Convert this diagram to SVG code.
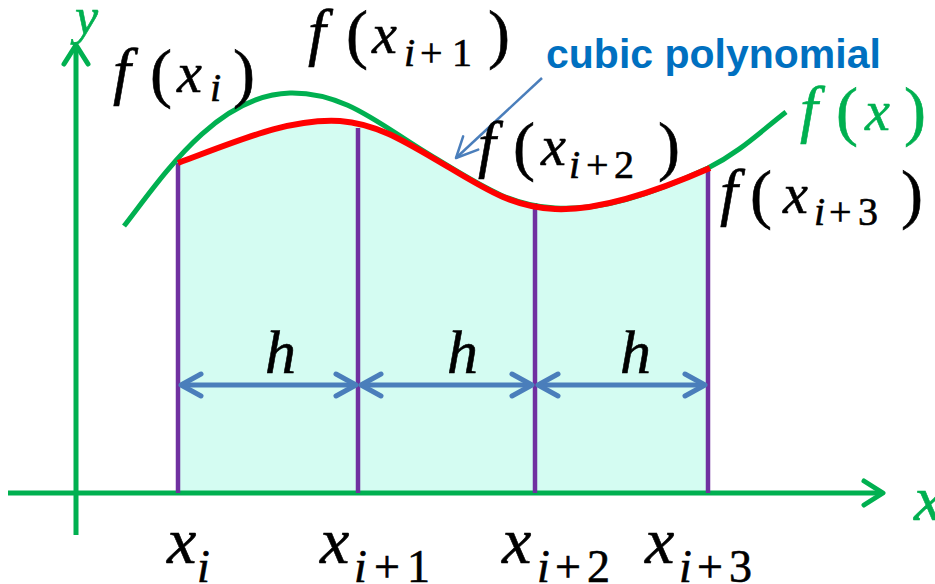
<svg xmlns="http://www.w3.org/2000/svg" width="935" height="584" viewBox="0 0 935 584">
<style>
.m{font-family:"Liberation Serif","Times New Roman",serif;fill:#000;stroke:#000;stroke-width:0.6}
.it{font-style:italic}
.g{fill:#00B050;stroke:#00B050}
.axis{stroke:#00B050;stroke-width:5;fill:none}
.div{stroke:#7030A0;stroke-width:4.5}
.dim{stroke:#4A7EBB;stroke-width:5;fill:none}
.lbl{font-family:"Liberation Sans",Arial,sans-serif;font-weight:bold;fill:#0070C0;font-size:41px}
</style>
<defs>
<marker id="ah" markerUnits="userSpaceOnUse" viewBox="-24 -16 28 32" markerWidth="28" markerHeight="32" refX="0" refY="0" orient="auto-start-reverse">
<path d="M-20,-11 L0,0 L-20,11" fill="none" stroke="#4A7EBB" stroke-width="5" stroke-linecap="round" stroke-linejoin="round"/>
</marker>
<marker id="gh" markerUnits="userSpaceOnUse" viewBox="-24 -16 28 32" markerWidth="28" markerHeight="32" refX="0" refY="0" orient="auto">
<path d="M-19,-12 L0,0 L-19,12" fill="none" stroke="#00B050" stroke-width="5" stroke-linecap="round" stroke-linejoin="round"/>
</marker>
<marker id="bh" markerUnits="userSpaceOnUse" viewBox="-26 -14 30 28" markerWidth="30" markerHeight="28" refX="0" refY="0" orient="auto">
<path d="M-22,-9 L0,0 L-20,11" fill="none" stroke="#4A7EBB" stroke-width="2.5" stroke-linecap="round" stroke-linejoin="round"/>
</marker>
</defs>

<g id="area">
<path d="M178,165 C240,142 290,121 340,124 C380,127 410,147 450,170 C490,194 515,208 555,211 C600,213 660,192 706,171 L708,493 L178,493 Z" fill="#D4FCF2"/>
</g>

<g id="axes">
<line class="axis" x1="8" y1="493" x2="883" y2="493" marker-end="url(#gh)"/>
<line class="axis" x1="76" y1="535" x2="76" y2="45" marker-end="url(#gh)"/>
<text class="m it g" x="75" y="34" font-size="52">y</text>
<text class="m it g" x="914" y="520" font-size="64">x</text>
</g>

<g id="dividers">
<line class="div" x1="178" y1="163" x2="178" y2="493"/>
<line class="div" x1="358" y1="128" x2="358" y2="493"/>
<line class="div" x1="535" y1="203" x2="535" y2="493"/>
<line class="div" x1="708" y1="168" x2="708" y2="493"/>
</g>

<g id="fx-curve">
<path d="M124,226 C160,180 215,95 290,93 C345,92 380,125 430,155 C480,185 510,206 555,208 C600,211 650,195 708,168 C740,152 760,132 786,112" fill="none" stroke="#00B050" stroke-width="5"/>
</g>

<g id="cubic-curve">
<path d="M178,163 C240,140 290,118 340,121 C380,124 410,145 450,168 C490,192 515,207 555,209 C600,211 660,190 710,168" fill="none" stroke="#FF0000" stroke-width="6"/>
</g>

<g id="connectors">
<line class="dim" x1="181" y1="385" x2="356" y2="385" marker-start="url(#ah)" marker-end="url(#ah)"/>
<line class="dim" x1="361" y1="385" x2="532" y2="385" marker-start="url(#ah)" marker-end="url(#ah)"/>
<line class="dim" x1="538" y1="385" x2="705" y2="385" marker-start="url(#ah)" marker-end="url(#ah)"/>
<line x1="542" y1="78" x2="456" y2="158" stroke="#4A7EBB" stroke-width="2.5" marker-end="url(#bh)"/>
</g>

<g id="label-cubic">
<text class="lbl" x="546" y="68">cubic polynomial</text>
</g>

<g id="label-fxi">
<text class="m" y="92"><tspan class="it" x="113" font-size="64">f</tspan><tspan x="150" y="95" font-size="66">(</tspan><tspan class="it" x="177" y="92" font-size="56">x</tspan><tspan class="it" x="210" y="101" font-size="40">i</tspan><tspan x="233" y="95" font-size="66">)</tspan></text>
</g>
<g id="label-fxi1">
<text class="m" y="53"><tspan class="it" x="308" font-size="64">f</tspan><tspan x="346" y="56" font-size="66">(</tspan><tspan class="it" x="372" y="53" font-size="56">x</tspan><tspan class="it" x="404" y="66" font-size="40">i</tspan><tspan x="420" font-size="40">+</tspan><tspan x="452" font-size="40">1</tspan><tspan x="488" y="56" font-size="66">)</tspan></text>
</g>
<g id="label-fxi2">
<text class="m" y="165"><tspan class="it" x="478" font-size="64">f</tspan><tspan x="513" y="168" font-size="66">(</tspan><tspan class="it" x="541" y="165" font-size="56">x</tspan><tspan class="it" x="569" y="178" font-size="40">i</tspan><tspan x="586" font-size="40">+</tspan><tspan x="614" font-size="40">2</tspan><tspan x="658" y="168" font-size="66">)</tspan></text>
</g>
<g id="label-fxi3">
<text class="m" y="213"><tspan class="it" x="720" font-size="64">f</tspan><tspan x="750" y="216" font-size="66">(</tspan><tspan class="it" x="783" y="213" font-size="56">x</tspan><tspan class="it" x="814" y="225" font-size="40">i</tspan><tspan x="829" font-size="40">+</tspan><tspan x="858" font-size="40">3</tspan><tspan x="901" y="216" font-size="66">)</tspan></text>
</g>
<g id="label-fx">
<text class="m g" y="130"><tspan class="it" x="800" font-size="64">f</tspan><tspan x="836" y="133" font-size="66">(</tspan><tspan class="it" x="865" y="130" font-size="56">x</tspan><tspan x="904" y="133" font-size="66">)</tspan></text>
</g>

<g id="label-h">
<text class="m it" x="265" y="373" font-size="62">h</text>
<text class="m it" x="447" y="373" font-size="62">h</text>
<text class="m it" x="620" y="373" font-size="62">h</text>
</g>

<g id="label-xs">
<text class="m" y="563"><tspan class="it" x="167" font-size="66">x</tspan><tspan class="it" x="197" y="582" font-size="46">i</tspan></text>
<text class="m" y="563"><tspan class="it" x="320" font-size="66">x</tspan><tspan class="it" x="354" y="582" font-size="46">i</tspan><tspan x="374" font-size="46">+</tspan><tspan x="407" font-size="46">1</tspan></text>
<text class="m" y="563"><tspan class="it" x="502" font-size="66">x</tspan><tspan class="it" x="537" y="582" font-size="46">i</tspan><tspan x="555" font-size="46">+</tspan><tspan x="587" font-size="46">2</tspan></text>
<text class="m" y="563"><tspan class="it" x="645" font-size="66">x</tspan><tspan class="it" x="679" y="582" font-size="46">i</tspan><tspan x="697" font-size="46">+</tspan><tspan x="729" font-size="46">3</tspan></text>
</g>
</svg>
